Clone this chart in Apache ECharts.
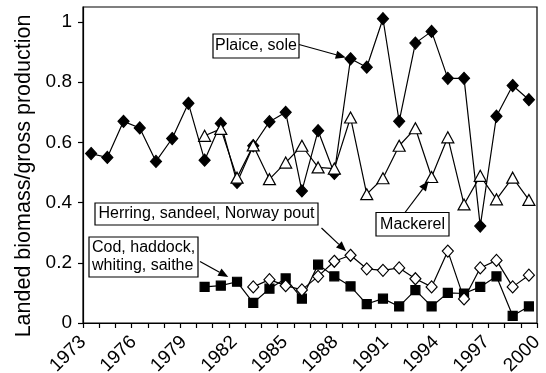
<!DOCTYPE html>
<html>
<head>
<meta charset="utf-8">
<script src="https://cdn.jsdelivr.net/npm/echarts@6/dist/echarts.min.js"></script>
<style>
  html, body { margin: 0; padding: 0; background: #fff; }
  #chart { width: 546px; height: 373px; }
</style>
</head>
<body>
<div id="chart"></div>
<script>
// One value per year, 1973-2000
const years = [];
for (let y = 1973; y <= 2000; y++) years.push(String(y));

// Year labels printed under the axis
const yearLabels = [1973, 1976, 1979, 1982, 1985, 1988, 1991, 1994, 1997, 2000];

// Landed biomass / gross production per fish group (null = no data)
const plaiceSole = [0.563, 0.55, 0.67, 0.648, 0.537, 0.613, 0.73, 0.541, 0.663, 0.467,
  0.589, 0.669, 0.70, 0.439, 0.639, 0.497, 0.878, 0.85, 1.011, 0.67,
  0.93, 0.969, 0.813, 0.813, 0.322, 0.687, 0.789, 0.742];
const mackerel = [null, null, null, null, null, null, null, 0.622, 0.645, 0.483,
  0.59, 0.478, 0.533, 0.589, 0.517, 0.513, 0.683, 0.428, 0.481, 0.589,
  0.647, 0.485, 0.617, 0.394, 0.489, 0.411, 0.483, 0.409];
const herringSandeelPout = [null, null, null, null, null, null, null, null, null, null,
  0.12, 0.144, 0.124, 0.11, 0.155, 0.205, 0.225, 0.18, 0.175, 0.183,
  0.147, 0.12, 0.239, 0.08, 0.183, 0.208, 0.12, 0.159];
const codHaddockWhitingSaithe = [null, null, null, null, null, null, null, 0.12, 0.124, 0.137,
  0.067, 0.114, 0.148, 0.081, 0.194, 0.155, 0.122, 0.063, 0.081, 0.055,
  0.109, 0.055, 0.1, 0.098, 0.12, 0.155, 0.024, 0.055];

// Y axis tick values
const yTicks = [0, 0.2, 0.4, 0.6, 0.8, 1];

const FONT = '"Liberation Sans", Arial, Helvetica, sans-serif';
const chart = echarts.init(document.getElementById('chart'), null, { renderer: 'canvas' });

function lineSeries(name, data, symbol, size, fill) {
  return {
    name, type: 'line', data,
    xAxisIndex: 0, yAxisIndex: 0,
    symbol, symbolSize: size,
    showSymbol: true, showAllSymbol: true,
    connectNulls: false,
    lineStyle: { color: '#000', width: 1.2 },
    itemStyle: { color: fill, borderColor: '#000', borderWidth: 1.2 },
    emphasis: { disabled: true },
    animation: false
  };
}

chart.setOption({
  animation: false,
  grid: {
    left: 83, right: 9, top: 7, bottom: 50,
    outerBoundsMode: 'none', containLabel: false,
    show: true, borderColor: '#000', borderWidth: 1.2
  },
  xAxis: [
    {
      // Data axis: one slot per year, ticks on the slot edges
      type: 'category', data: years, boundaryGap: true, position: 'bottom',
      axisLine: { lineStyle: { color: '#000', width: 1.2 } },
      axisTick: { show: true, interval: 0, length: 5, lineStyle: { color: '#000', width: 1.2 } },
      axisLabel: { show: false },
      splitLine: { show: false }
    },
    {
      // Label axis: the printed years spread across the full width
      type: 'value', min: 0, max: yearLabels.length * 3 - 3, interval: 3,
      position: 'bottom', offset: 0,
      axisLine: { show: false },
      axisTick: { show: false },
      splitLine: { show: false },
      axisLabel: {
        rotate: 45, margin: 16,
        color: '#000', fontFamily: FONT, fontSize: 19,
        showMinLabel: true, showMaxLabel: true,
        formatter: v => String(yearLabels[Math.round(v / 3)])
      }
    }
  ],
  yAxis: {
    type: 'value', min: 0, max: 1.05, interval: 0.2,
    name: 'Landed biomass/gross production',
    nameLocation: 'middle', nameGap: 46,
    nameTextStyle: { color: '#000', fontFamily: FONT, fontSize: 21.5, padding: [0, 22, 0, 0] },
    axisLine: { show: true, lineStyle: { color: '#000', width: 1.2 } },
    axisTick: { show: true, length: 5, lineStyle: { color: '#000', width: 1.2 } },
    axisLabel: {
      color: '#000', fontFamily: FONT, fontSize: 19, margin: 11,
      showMaxLabel: false,
      formatter: v => (yTicks.indexOf(Math.round(v * 10) / 10) >= 0 ? String(Math.round(v * 10) / 10) : '')
    },
    splitLine: { show: false }
  },
  series: [
    lineSeries('Plaice, sole', plaiceSole, 'diamond', [11, 12], '#000'),
    lineSeries('Mackerel', mackerel, 'triangle', [12, 11], '#fff'),
    lineSeries('Cod, haddock, whiting, saithe', codHaddockWhitingSaithe, 'rect', 9, '#000'),
    lineSeries('Herring, sandeel, Norway pout', herringSandeelPout, 'diamond', [11, 12], '#fff')
  ]
});

// Callout boxes with arrows pointing at one mark of each series
const callouts = [
  { lines: ['Plaice, sole'], box: [213, 34, 86, 24], from: [299, 44.5], series: plaiceSole, year: '1989', gap: 5, align: 'center' },
  { lines: ['Herring, sandeel, Norway pout'], box: [95, 203, 223, 22], from: [321.5, 228], series: herringSandeelPout, year: '1989', gap: 6, align: 'center' },
  { lines: ['Cod, haddock,', 'whiting, saithe'], box: [89, 237, 109, 40], from: [200, 261.5], series: codHaddockWhitingSaithe, year: '1982', gap: 10, align: 'left' },
  { lines: ['Mackerel'], box: [376, 212.5, 73, 23.5], from: [405, 212.5], series: mackerel, year: '1994', gap: 5, align: 'center' }
];

const graphics = [];
callouts.forEach(c => {
  const idx = years.indexOf(c.year);
  const p = chart.convertToPixel({ xAxisIndex: 0, yAxisIndex: 0 }, [idx, c.series[idx]]);
  const dx = p[0] - c.from[0], dy = p[1] - c.from[1];
  const len = Math.sqrt(dx * dx + dy * dy);
  const ux = dx / len, uy = dy / len;
  const tip = [p[0] - ux * c.gap, p[1] - uy * c.gap];
  const headLen = 10, headW = 4.2;
  const base = [tip[0] - ux * headLen, tip[1] - uy * headLen];
  graphics.push({
    type: 'line', z: 100,
    shape: { x1: c.from[0], y1: c.from[1], x2: base[0], y2: base[1] },
    style: { stroke: '#000', lineWidth: 1.2 }
  });
  graphics.push({
    type: 'polygon', z: 100,
    shape: { points: [tip, [base[0] - uy * headW, base[1] + ux * headW], [base[0] + uy * headW, base[1] - ux * headW]] },
    style: { fill: '#000' }
  });
  const [bx, by, bw, bh] = c.box;
  graphics.push({
    type: 'rect', z: 100,
    shape: { x: bx, y: by, width: bw, height: bh },
    style: { fill: '#fff', stroke: '#000', lineWidth: 1.2 }
  });
  graphics.push({
    type: 'text', z: 101,
    x: c.align === 'center' ? bx + bw / 2 : bx + 3,
    y: by + bh / 2,
    style: {
      text: c.lines.join('\n'), fill: '#000',
      font: '16px ' + FONT, lineHeight: 18,
      align: c.align, verticalAlign: 'middle'
    }
  });
});
chart.setOption({ graphic: graphics });
</script>
</body>
</html>
